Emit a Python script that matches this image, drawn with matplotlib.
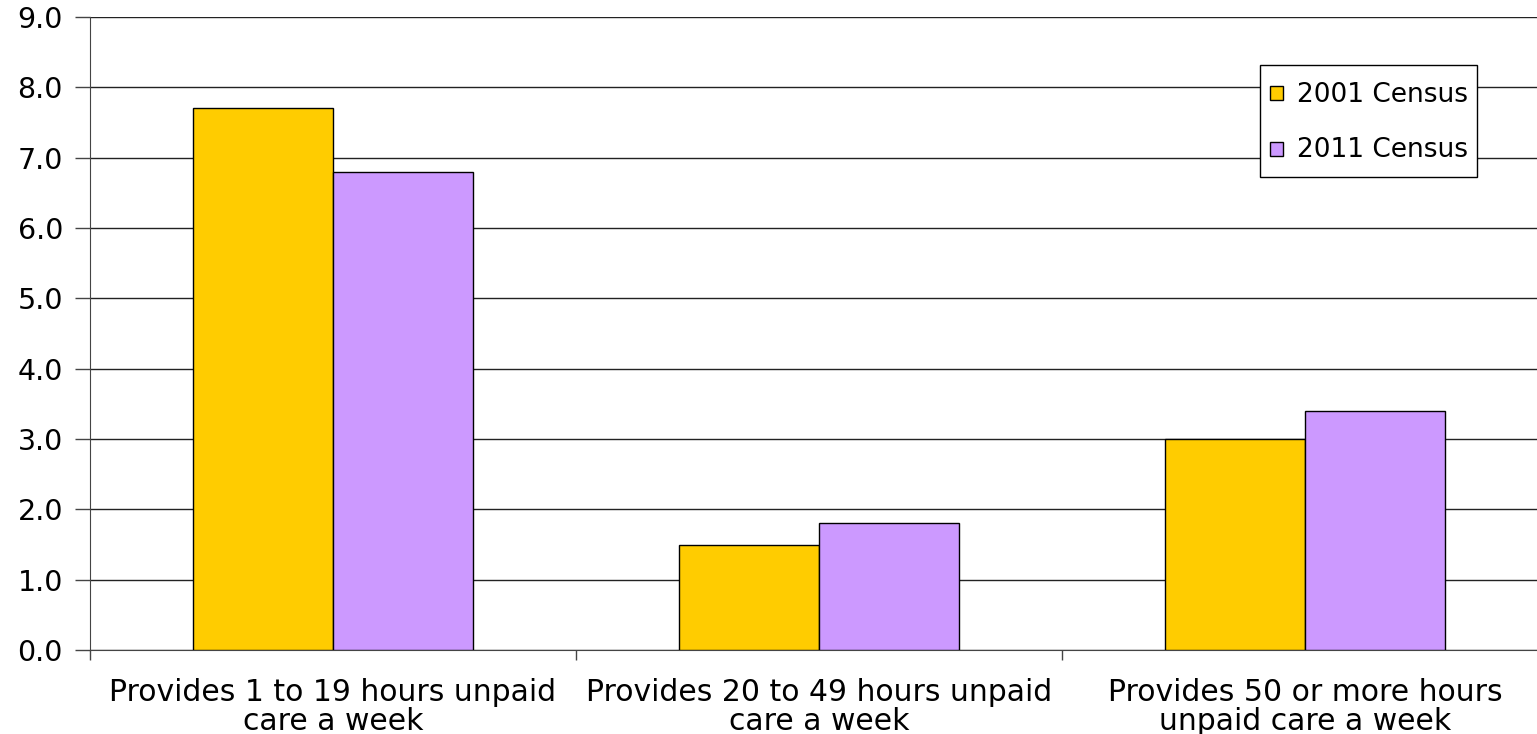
import numpy as np
import matplotlib
matplotlib.use('Agg')
import matplotlib.pyplot as plt
import matplotlib.patches as mpatches
from matplotlib.container import BarContainer
from matplotlib.legend_handler import HandlerPatch
from matplotlib.ticker import FixedLocator

categories = [
    "Provides 1 to 19 hours unpaid\ncare a week",
    "Provides 20 to 49 hours unpaid\ncare a week",
    "Provides 50 or more hours\nunpaid care a week",
]
series_names = ["2001 Census", "2011 Census"]
census_2001 = [7.7, 1.5, 3.0]
census_2011 = [6.8, 1.8, 3.4]
y_ticks = np.arange(0, 9.5, 1.0)

# source text is a wide sans, DejaVu is the closest in width
plt.rcParams['font.family'] = ['DejaVu Sans']

fig = plt.figure(figsize=(15.37, 7.34), dpi=100)
# axes run past the right edge of the picture, as in the source
ax = fig.add_axes([90 / 1537, 1 - 650 / 734, 1458 / 1537, 633 / 734])

x = np.arange(len(categories))
w = 0.288
ax.bar(x - w / 2, census_2001, w, color='#FFCC00', edgecolor='black', linewidth=1, label=series_names[0], zorder=3)
ax.bar(x + w / 2, census_2011, w, color='#CC99FF', edgecolor='black', linewidth=1, label=series_names[1], zorder=3)

ax.set_xlim(-0.5, len(categories) - 0.5)
ax.set_ylim(0, 9)
ax.set_yticks(y_ticks)
ax.set_yticklabels([f"{v:.1f}" for v in y_ticks], fontsize=20.5)
ax.yaxis.grid(True, color='#222222', linewidth=1, zorder=0)

ax.set_xticks(x)
ax.set_xticklabels(categories, fontsize=21.5, linespacing=1.0)
ax.xaxis.set_minor_locator(FixedLocator(np.arange(-0.5, len(categories), 1.0)))
ax.tick_params(axis='x', which='major', length=0, pad=20)
ax.tick_params(axis='x', which='minor', length=7, width=1, color='#444444')
ax.tick_params(axis='y', length=11, width=1, color='#444444', pad=8.5)

for s in ['top', 'right']:
    ax.spines[s].set_visible(False)
ax.spines['left'].set_color('#444444')
ax.spines['bottom'].set_color('#444444')


def small_square(legend, orig_handle, xdescent, ydescent, width, height, fontsize):
    s = 10  # points
    return mpatches.Rectangle((-xdescent + (width - s) / 2, -ydescent + (height - s) / 2), s, s)


def from_first_bar(tgt, src):
    tgt.update_from(src.patches[0])


leg = ax.legend(loc='upper left', bbox_to_anchor=(1260 / 1537, 1 - 65 / 734),
                bbox_transform=fig.transFigure, fontsize=19, frameon=True,
                fancybox=False, edgecolor='black', framealpha=1,
                handlelength=0.55, handleheight=1.82, handletextpad=0.5,
                labelspacing=0.68, borderpad=0.35, borderaxespad=0,
                handler_map={BarContainer: HandlerPatch(patch_func=small_square,
                                                        update_func=from_first_bar)})
leg.get_frame().set_linewidth(1)

fig.savefig('out.png', dpi=100)
